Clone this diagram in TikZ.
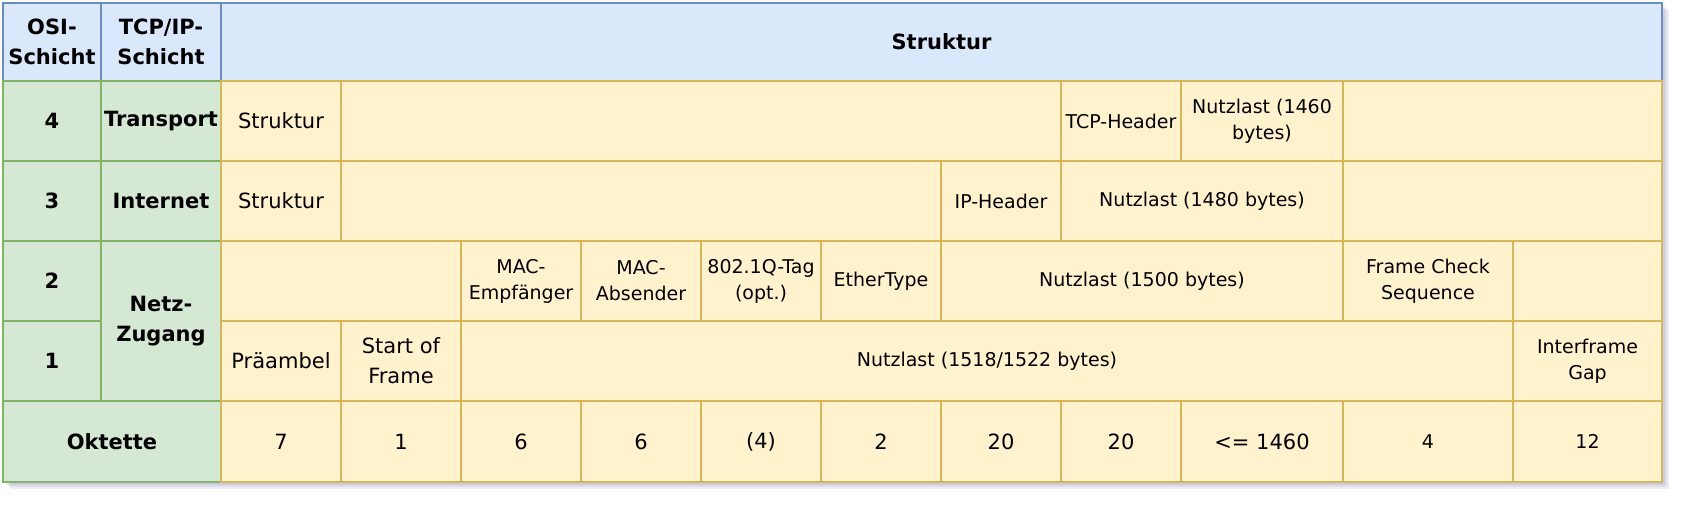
\documentclass[tikz,border=0pt]{standalone}
\usepackage{fontspec}
\setmainfont{DejaVu Sans}
\usepackage{xcolor}
\usetikzlibrary{positioning}

\definecolor{hdrfill}{HTML}{DAE8FC}
\definecolor{hdrline}{HTML}{6C8EBF}
\definecolor{lyrfill}{HTML}{D5E8D4}
\definecolor{lyrline}{HTML}{82B366}
\definecolor{fldfill}{HTML}{FFF2CC}
\definecolor{fldline}{HTML}{D6B656}

\tikzset{
    cellbase/.style={draw, line width=2pt, inner sep=0pt, align=center,
        font={\fontsize{19}{26}\selectfont}},
    hdr/.style={cellbase, draw=hdrline, fill=hdrfill,
        font={\fontsize{21}{30}\selectfont\bfseries}},
    lyr/.style={cellbase, draw=lyrline, fill=lyrfill,
        font={\fontsize{21}{30}\selectfont\bfseries}},
    fld/.style={cellbase, draw=fldline, fill=fldfill},
    fldbig/.style={fld, font={\fontsize{21}{30}\selectfont}}
}

% name, style, x1, x2, y1, y2, text
\newcommand{\tabcell}[7]{%
    \node[#2, minimum width={((#4)-(#3))*1pt}, minimum height={((#6)-(#5))*1pt}]
        (#1) at ({((#3)+(#4))/2},{((#5)+(#6))/2}) {#7};}

\begin{document}
\begin{tikzpicture}[x=1pt, y=-1pt]
    \useasboundingbox (0,0) rectangle (1688,506);

    % Shadow
    \foreach \d in {3,5,7} {
        \fill[black!60!blue, opacity=0.07] ({3+\d},{3+\d}) rectangle ({1662+\d},{482+\d});
    }

    % Header row
    \tabcell{osi}{hdr}{3}{101}{3}{81}{OSI-\\Schicht}
    \tabcell{tcpip}{hdr}{101}{221}{3}{81}{TCP/IP-\\Schicht}
    \tabcell{struktur}{hdr}{221}{1662}{3}{81}{Struktur}

    % Layer columns
    \tabcell{osi4}{lyr}{3}{101}{81}{161}{4}
    \tabcell{tcp4}{lyr}{101}{221}{81}{161}{Transport}
    \tabcell{osi3}{lyr}{3}{101}{161}{241}{3}
    \tabcell{tcp3}{lyr}{101}{221}{161}{241}{Internet}
    \tabcell{osi2}{lyr}{3}{101}{241}{321}{2}
    \tabcell{osi1}{lyr}{3}{101}{321}{401}{1}
    \tabcell{netz}{lyr}{101}{221}{241}{401}{Netz-\\Zugang}
    \tabcell{okt}{lyr}{3}{221}{401}{482}{Oktette}

    % Layer 4
    \tabcell{str4}{fldbig}{221}{341}{81}{161}{Struktur}
    \tabcell{gap4a}{fld}{341}{1061}{81}{161}{}
    \tabcell{tcphdr}{fld}{1061}{1181}{81}{161}{TCP-Header}
    \tabcell{load4}{fld}{1181}{1343}{81}{161}{Nutzlast (1460\\bytes)}
    \tabcell{gap4b}{fld}{1343}{1662}{81}{161}{}

    % Layer 3
    \tabcell{str3}{fldbig}{221}{341}{161}{241}{Struktur}
    \tabcell{gap3a}{fld}{341}{941}{161}{241}{}
    \tabcell{iphdr}{fld}{941}{1061}{161}{241}{IP-Header}
    \tabcell{load3}{fld}{1061}{1343}{161}{241}{Nutzlast (1480 bytes)}
    \tabcell{gap3b}{fld}{1343}{1662}{161}{241}{}

    % Layer 2
    \tabcell{gap2a}{fld}{221}{461}{241}{321}{}
    \tabcell{macdst}{fld}{461}{581}{241}{321}{MAC-\\Empfänger}
    \tabcell{macsrc}{fld}{581}{701}{241}{321}{MAC-\\Absender}
    \tabcell{vlan}{fld}{701}{821}{241}{321}{802.1Q-Tag\\(opt.)}
    \tabcell{etype}{fld}{821}{941}{241}{321}{EtherType}
    \tabcell{load2}{fld}{941}{1343}{241}{321}{Nutzlast (1500 bytes)}
    \tabcell{fcs}{fld}{1343}{1513}{241}{321}{Frame Check\\Sequence}
    \tabcell{gap2b}{fld}{1513}{1662}{241}{321}{}

    % Layer 1
    \tabcell{pre}{fldbig}{221}{341}{321}{401}{Präambel}
    \tabcell{sof}{fldbig}{341}{461}{321}{401}{Start of\\Frame}
    \tabcell{load1}{fld}{461}{1513}{321}{401}{Nutzlast (1518/1522 bytes)}
    \tabcell{ifg}{fld}{1513}{1662}{321}{401}{Interframe\\Gap}

    % Octets
    \foreach \val [count=\i from 0] in {7,1,6,6,(4),2,20,20} {
        \tabcell{oct\i}{fldbig}{221+120*\i}{341+120*\i}{401}{482}{\val}
    }
    \tabcell{octload}{fldbig}{1181}{1343}{401}{482}{<= 1460}
    \tabcell{octfcs}{fld}{1343}{1513}{401}{482}{4}
    \tabcell{octifg}{fld}{1513}{1662}{401}{482}{12}
\end{tikzpicture}
\end{document}
